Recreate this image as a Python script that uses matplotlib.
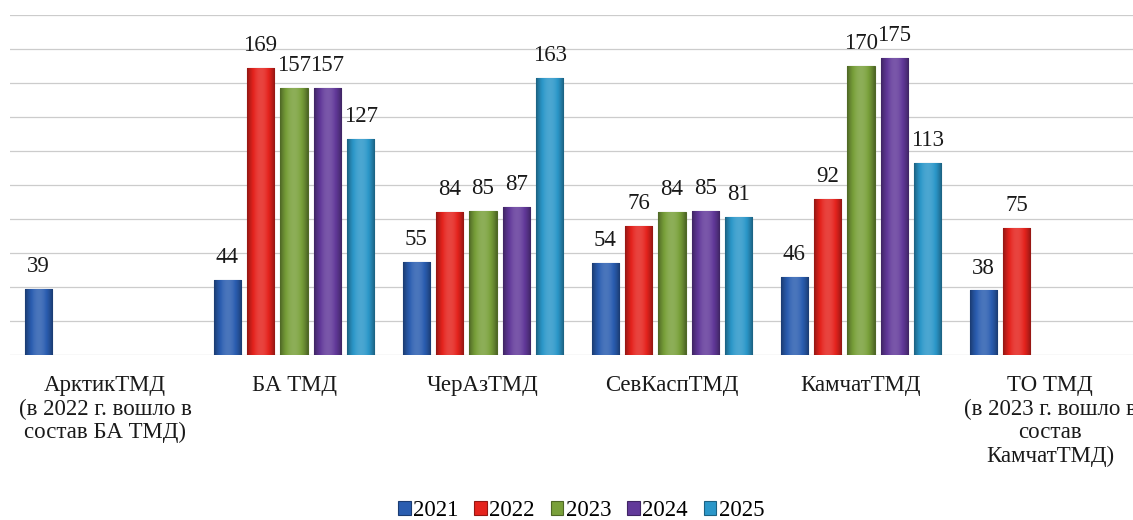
import numpy as np
import matplotlib
matplotlib.use("Agg")
import matplotlib.pyplot as plt
from matplotlib.colors import to_rgb

# Данные
categories = ["АрктикТМД\n(в 2022 г. вошло в\nсостав БА ТМД)",
              "БА ТМД",
              "ЧерАзТМД",
              "СевКаспТМД",
              "КамчатТМД",
              "ТО ТМД\n(в 2023 г. вошло в\nсостав\nКамчатТМД)"]
years = ["2021", "2022", "2023", "2024", "2025"]
v2021 = [39, 44, 55, 54, 46, 38]
v2022 = [None, 169, 84, 76, 92, 75]
v2023 = [None, 157, 85, 84, 170, None]
v2024 = [None, 157, 87, 85, 175, None]
v2025 = [None, 127, 163, 81, 113, None]
series = [v2021, v2022, v2023, v2024, v2025]
colors = ["#2a5db0", "#e5231d", "#79a03a", "#62399a", "#2b97c9"]

plt.rcParams['font.family'] = ['Liberation Serif', 'DejaVu Serif']

fig = plt.figure(figsize=(11.33, 5.2), dpi=100)
ax = fig.add_axes([10.5/1133, 1-355/520, 1134/1133, 340/520])

x = np.arange(len(categories))
bw = 0.143
pitch = 0.177

def shade(c, f):
    r = np.array(to_rgb(c))
    if f < 0:
        return tuple(r * (1 + f))
    return tuple(r + (1 - r) * f)

for i, (vals, col) in enumerate(zip(series, colors)):
    xs = [x[j] + (i - 2) * pitch for j in range(len(vals)) if vals[j] is not None]
    hs = [v for v in vals if v is not None]
    bars = ax.bar(xs, hs, width=bw, color=col, edgecolor=shade(col, -0.35),
                  linewidth=0.8, label=years[i], zorder=3)
    # объёмный градиент
    g = np.linspace(-1, 1, 40)
    prof = 1 - g**2
    cmap_img = np.array([shade(col, -0.35 + 0.5 * p) if p < 0.7 else shade(col, 0.15 * (p - 0.7) / 0.3)
                         for p in prof])[None, :, :]
    for b, v in zip(bars, hs):
        im = ax.imshow(cmap_img, extent=(b.get_x(), b.get_x() + b.get_width(), 0, v),
                       aspect='auto', zorder=3.5, interpolation='bilinear')
        im.set_clip_path(b)
        ax.text(b.get_x() + b.get_width()/2, v + 7, str(v), ha='center', va='bottom',
                fontsize=16.5, color='#1a1a1a', zorder=5)

ax.set_xlim(-0.5, 5.5)
ax.set_ylim(0, 200)
ax.set_yticks(np.arange(0, 201, 20))
ax.yaxis.grid(True, color='#cccccc', linewidth=0.9)
ax.set_axisbelow(True)
ax.tick_params(axis='y', left=False, labelleft=False)
ax.tick_params(axis='x', bottom=False)
ax.set_xticks(x)
ax.set_xticklabels(categories, fontsize=16.5, color='#1a1a1a', linespacing=1.15, va='top')
ax.tick_params(axis='x', pad=11)
for s in ax.spines.values():
    s.set_visible(False)

fig.legend(loc='center', bbox_to_anchor=(581/1133, 1-511/520), ncol=5, frameon=False,
           fontsize=16.5, handlelength=0.55, handleheight=0.55, handletextpad=0.1,
           columnspacing=0.7)

fig.savefig("out.png", dpi=100)
